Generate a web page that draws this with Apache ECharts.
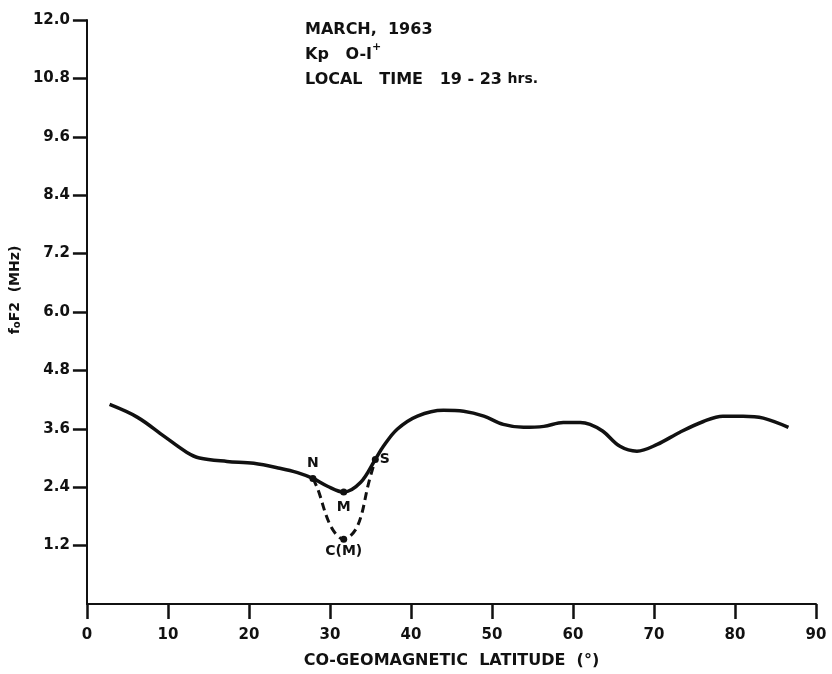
<!DOCTYPE html>
<html>
<head>
<meta charset="utf-8">
<script src="https://cdn.jsdelivr.net/npm/echarts@6/dist/echarts.min.js"></script>
<style>
  html, body { margin: 0; padding: 0; background: #fff; }
  #chart { width: 832px; height: 674px; }
</style>
</head>
<body>
<div id="chart"></div>
<script>
// Observed foF2 against co-geomagnetic latitude (solid curve)
const latObserved = [2.8, 6.2, 9.5, 12.3, 13.9, 17.3, 20.6, 23.8, 26.0, 27.9, 29.7, 31.7, 33.8, 35.6, 36.6, 38.3, 40.8, 44.0, 46.5, 49.0, 51.4, 53.9, 56.4, 58.8, 60.9, 62.1, 63.7, 65.8, 67.9, 70.4, 73.2, 76.1, 78.5, 81.0, 83.5, 86.6];
const foF2Observed = [4.10, 3.84, 3.45, 3.12, 3.00, 2.93, 2.89, 2.79, 2.70, 2.58, 2.42, 2.30, 2.50, 2.97, 3.24, 3.59, 3.86, 3.98, 3.96, 3.86, 3.69, 3.63, 3.65, 3.73, 3.73, 3.69, 3.55, 3.24, 3.14, 3.28, 3.53, 3.75, 3.86, 3.86, 3.82, 3.63];

// Trough corrected for the magnetic field (dashed curve)
const latCorrected = [27.9, 28.5, 30.1, 31.7, 33.4, 34.8, 35.6];
const foF2Corrected = [2.58, 2.36, 1.60, 1.33, 1.60, 2.50, 2.97];

// Labelled points
const pointNames = ['N', 'M', 'S', 'C(M)'];
const pointLat = [27.9, 31.7, 35.6, 31.7];
const pointFoF2 = [2.58, 2.30, 2.97, 1.33];

// Axis ticks
const yTicks = [1.2, 2.4, 3.6, 4.8, 6.0, 7.2, 8.4, 9.6, 10.8, 12.0];
const xTicks = [0, 10, 20, 30, 40, 50, 60, 70, 80, 90];

const annotation = ['MARCH,  1963', 'Kp   O-I{sup|+}', 'LOCAL   TIME   19 - 23 {small|hrs.}'];

const font = 'DejaVu Sans';
const ink = '#111';

const chart = echarts.init(document.getElementById('chart'));

const labelPos = { 'N': 'top', 'M': 'bottom', 'S': 'right', 'C(M)': 'bottom' };
const labelDist = { 'N': 5, 'M': 5, 'S': 1, 'C(M)': 2 };

chart.setOption({
  animation: false,
  backgroundColor: '#fff',
  grid: { left: 86, right: 16, top: 20, bottom: 69 },
  xAxis: {
    type: 'value', min: 0, max: 90, interval: 10,
    name: 'CO-GEOMAGNETIC  LATITUDE  (°)',
    nameLocation: 'middle', nameGap: 49,
    nameTextStyle: { color: ink, fontFamily: font, fontSize: 16, fontWeight: 'bold' },
    axisLine: { lineStyle: { color: ink, width: 2 } },
    axisTick: { inside: false, length: 15, lineStyle: { color: ink, width: 2.5 } },
    axisLabel: {
      color: ink, fontFamily: font, fontSize: 15, fontWeight: 'bold', margin: 24,
      formatter: v => xTicks.includes(v) ? String(v) : ''
    },
    splitLine: { show: false }
  },
  yAxis: {
    type: 'value', min: 0, max: 12, interval: 1.2,
    name: 'f{sub|o}F2  (MHz)',
    nameLocation: 'middle', nameGap: 56, nameRotate: 90,
    nameTextStyle: {
      color: ink, fontFamily: font, fontSize: 14, fontWeight: 'bold', padding: [0, 0, 0, 44],
      rich: { sub: { fontSize: 10, fontWeight: 'bold', verticalAlign: 'bottom', fontFamily: font, color: ink } }
    },
    axisLine: { show: true, lineStyle: { color: ink, width: 2 } },
    axisTick: { inside: false, length: 14, customValues: yTicks, lineStyle: { color: ink, width: 2.5 } },
    axisLabel: {
      color: ink, fontFamily: font, fontSize: 15, fontWeight: 'bold', margin: 17,
      customValues: yTicks,
      formatter: v => v.toFixed(1)
    },
    splitLine: { show: false }
  },
  graphic: [{
    type: 'text', left: 305, top: 17,
    style: {
      text: annotation.join('\n'),
      fill: ink, font: 'bold 16px "DejaVu Sans"', lineHeight: 25,
      rich: {
        sup: { fontSize: 11, fontWeight: 'bold', verticalAlign: 'top', fill: ink, fontFamily: font },
        small: { fontSize: 14, fontWeight: 'bold', fill: ink, fontFamily: font }
      }
    }
  }],
  series: [
    {
      type: 'line', smooth: 0.35, symbol: 'none',
      data: latObserved.map((x, i) => [x, foF2Observed[i]]),
      lineStyle: { color: ink, width: 3.5 }
    },
    {
      type: 'line', smooth: 0.35, symbol: 'none',
      data: latCorrected.map((x, i) => [x, foF2Corrected[i]]),
      lineStyle: { color: ink, width: 3, type: [8, 5] }
    },
    {
      type: 'scatter', symbolSize: 7,
      itemStyle: { color: ink, opacity: 1 },
      data: pointNames.map((n, i) => ({
        value: [pointLat[i], pointFoF2[i]],
        name: n,
        label: {
          show: true, position: labelPos[n], distance: labelDist[n],
          color: ink, fontFamily: font, fontSize: 14, fontWeight: 'bold'
        }
      })),
      label: { formatter: p => p.name }
    }
  ]
});
</script>
</body>
</html>
